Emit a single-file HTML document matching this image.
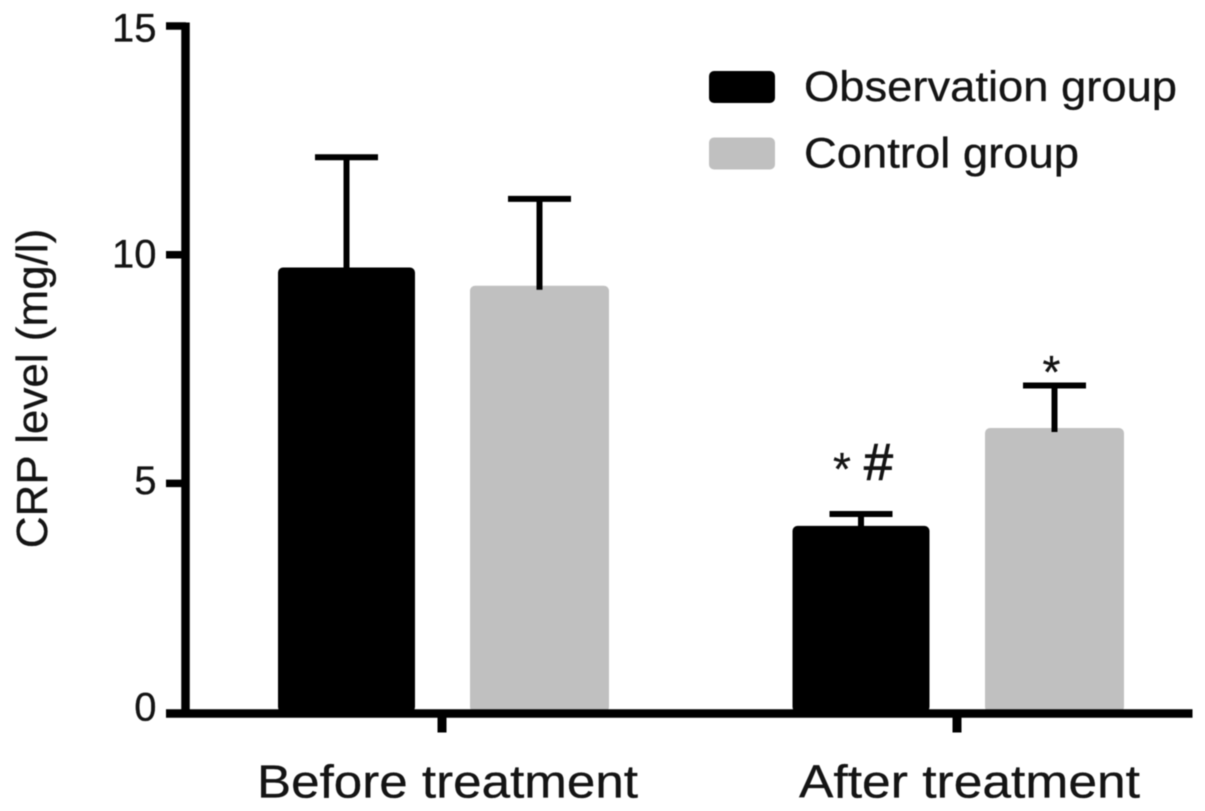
<!DOCTYPE html>
<html>
<head>
<meta charset="utf-8">
<style>
html,body{margin:0;padding:0;background:#fff;}
svg{display:block;filter:blur(0.6px);}
text{font-family:"Liberation Sans",Arial,sans-serif;fill:#141414;stroke:#141414;stroke-width:0.3px;}
</style>
</head>
<body>
<svg id="chart" width="1205" height="811" viewBox="0 0 1205 811" xmlns="http://www.w3.org/2000/svg"></svg>
<script>
const categories = ["Before treatment", "After treatment"];
const seriesNames = ["Observation group", "Control group"];
const observationValues = [9.72, 4.07];
const controlValues = [9.32, 6.21];
const observationErrors = [2.41, 0.26];
const controlErrors = [1.9, 0.93];
const yTicks = [0, 5, 10, 15];
const observationNotes = ["", "* #"];
const controlNotes = ["", "*"];

const svg = document.getElementById('chart');
const NS = 'http://www.w3.org/2000/svg';
function make(tag, attrs, text){
  const el = document.createElementNS(NS, tag);
  for (const k in attrs) el.setAttribute(k, attrs[k]);
  if (text !== undefined) el.textContent = text;
  svg.appendChild(el);
  return el;
}
const y = v => 712 - v * 45.73;
const tickLabelY = v => 720.6 - v * 45.29;
const groupCenter = i => 442 + i * 515;
const barCenter = (g, s) => groupCenter(g) + (s === 0 ? -95.5 - (g === 1 ? 0.5 : 0) : 97.5);
const barWidths = [137, 139];
const colors = ["#000000", "#c0c0c0"];
const allValues = [observationValues, controlValues];
const allErrors = [observationErrors, controlErrors];
const allNotes = [observationNotes, controlNotes];

allValues.forEach((vals, s) => {
  vals.forEach((v, g) => {
    const cx = barCenter(g, s);
    const top = y(v + allErrors[s][g]);
    const bar = make('rect', {x:cx-barWidths[s]/2, y:y(v), width:barWidths[s], height:y(0)-y(v), rx:5, fill:colors[s]});
    
    
    const stem = make('line', {x1:cx, x2:cx, y1:top, y2:y(v)+4, stroke:'#000', 'stroke-width':6});
    
    
    const cap = make('line', {x1:cx-31.5, x2:cx+31.5, y1:top, y2:top, stroke:'#000', 'stroke-width':6});
    
    
    const note = allNotes[s][g];
    if (note === '* #') {
      const star = make('text', {x:cx-19, y:top-29, 'text-anchor':'middle', 'font-size':46}, '*');
      
      
      const hash = make('text', {x:cx+17.5, y:top-34, 'text-anchor':'middle', 'font-size':52, style:'stroke-width:1px'}, '#');
      
      
    } else if (note === '*') {
      const star = make('text', {x:cx-3, y:top+2.5, 'text-anchor':'middle', 'font-size':46}, '*');
      
      
    }
  });
});

const yAxis = make('line', {x1:185.5, x2:185.5, y1:22.5, y2:717, stroke:'#000', 'stroke-width':8.5});


const xAxis = make('line', {x1:166, x2:1192.5, y1:713.5, y2:713.5, stroke:'#000', 'stroke-width':8.5});



yTicks.forEach(v => {
  if (v !== 0) {
    const tick = make('line', {x1:166, x2:186, y1:y(v), y2:y(v), stroke:'#000', 'stroke-width':7.5});
    
    
  }
  const label = make('text', {x:156.5, y:tickLabelY(v), 'text-anchor':'end', 'font-size':40}, String(v));
  
  
});

categories.forEach((c, i) => {
  const tick = make('line', {x1:groupCenter(i), x2:groupCenter(i), y1:713, y2:732.5, stroke:'#000', 'stroke-width':9});
  
  
  const label = make('text', {x:i === 0 ? 257 : 799, y:797.5, 'font-size':46, textLength:i === 0 ? 381 : 341, lengthAdjust:'spacingAndGlyphs'}, c);
  
  
});

const yTitle = make('text', {transform:'translate(47,388.5) rotate(-90)', 'text-anchor':'middle', 'font-size':44}, 'CRP level (mg/l)');



seriesNames.forEach((n, s) => {
  const ly = 87 + s * 66.5;
  const swatch = make('rect', {x:709, y:ly-16, width:66, height:32, rx:5, fill:colors[s]});
  
  
  const label = make('text', {x:804, y:ly + 14, 'font-size':43, textLength:s === 0 ? 373 : 275, lengthAdjust:'spacingAndGlyphs'}, n);
  
  
});
</script>
</body>
</html>
